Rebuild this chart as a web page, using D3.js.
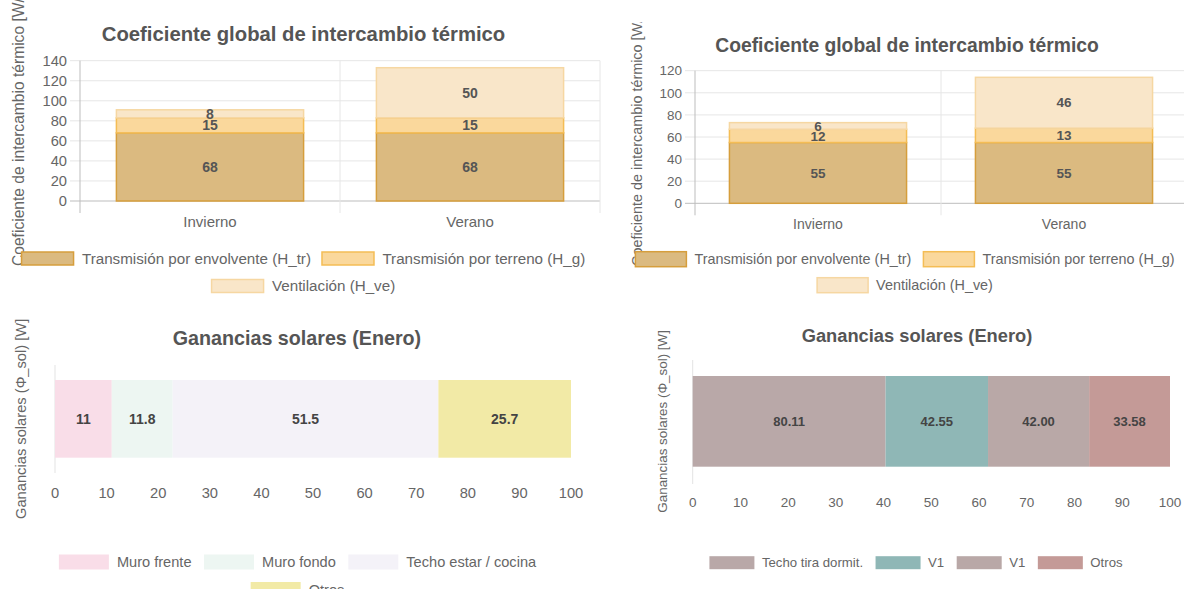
<!DOCTYPE html>
<html>
<head>
<meta charset="utf-8">
<script src="https://cdn.jsdelivr.net/npm/d3@7"></script>
<style>
  body { margin: 0; background: #fff; }
  svg text { font-family: "Liberation Sans", Arial, Helvetica, sans-serif; }
</style>
</head>
<body>
<script>
// data
const seasons = ["Invierno", "Verano"];
const heatSeries = ["Transmisión por envolvente (H_tr)", "Transmisión por terreno (H_g)", "Ventilación (H_ve)"];
const hTrLeft = [68, 68];
const hGLeft = [15, 15];
const hVeLeft = [8, 50];
const hTrRight = [55, 55];
const hGRight = [12, 13];
const hVeRight = [6, 46];

const solarNamesLeft = ["Muro frente", "Muro fondo", "Techo estar / cocina", "Otros"];
const solarValuesLeft = [11, 11.8, 51.5, 25.7];
const solarNamesRight = ["Techo tira dormit.", "V1", "V1", "Otros"];
const solarValuesRight = [80.11, 42.55, 42.00, 33.58];

const heatFill = ["#dbba80", "#fad89c", "#f9e6c9"];
const heatStroke = ["#d69e3c", "#f4bd55", "#f6d7a2"];
const solarColorsLeft = ["#f9dde8", "#edf6f2", "#f4f2f8", "#f2eaa6"];
const solarColorsRight = ["#b9a8a8", "#8fb7b6", "#b9a8a7", "#c49a97"];

const W = 1184, H = 589;
const svg = d3.select("body").append("svg")
  .attr("width", W).attr("height", H);

const defs = svg.append("defs");

// legend helper, rows are centered on cx
function legend(g, items, o) {
  o.rows.forEach((row, r) => {
    const cy = o.y + r * o.rowH;
    const rowG = g.append("g");
    let x = 0;
    row.forEach(i => {
      const it = items[i];
      rowG.append("rect")
        .attr("x", x).attr("y", cy - o.boxH / 2)
        .attr("width", o.boxW).attr("height", o.boxH)
        .attr("fill", it.fill)
        .attr("stroke", it.stroke || "none")
        .attr("stroke-width", it.stroke ? 1.5 : 0);
      const t = rowG.append("text")
        .attr("x", x + o.boxW + o.gap).attr("y", cy)
        .attr("dy", "0.35em")
        .attr("font-size", o.font)
        .attr("fill", "#666")
        .text(it.label);
      x += o.boxW + o.gap + t.node().getComputedTextLength() + o.itemGap;
    });
    const total = x - o.itemGap;
    rowG.attr("transform", `translate(${o.cx - total / 2},0)`);
  });
}

function yTitle(g, text, x, y, size, anchor, clipId) {
  const holder = g.append("g");
  if (clipId) holder.attr("clip-path", `url(#${clipId})`);
  holder.append("text")
    .attr("transform", `translate(${x},${y}) rotate(-90)`)
    .attr("text-anchor", anchor)
    .attr("font-size", size)
    .attr("fill", "#666")
    .text(text);
}

// stacked column chart (Coeficiente global)
function heatChart(c) {
  const g = svg.append("g");
  const rows = seasons.map((s, i) => ({ season: s, 0: c.tr[i], 1: c.g[i], 2: c.ve[i] }));
  const stack = d3.stack().keys([0, 1, 2])(rows);

  const x = d3.scaleBand().domain(seasons).range([c.left, c.right]);
  const y = d3.scaleLinear().domain([0, c.max]).range([c.bottom, c.top]);
  const ticks = y.ticks(c.max / 20);

  // horizontal grid
  g.append("g").selectAll("line").data(ticks).join("line")
    .attr("x1", c.left - 10).attr("x2", Math.min(c.right, W))
    .attr("y1", d => y(d)).attr("y2", d => y(d))
    .attr("stroke", d => d === 0 ? "#bdbdbd" : "#e6e6e6")
    .attr("stroke-width", 1);
  // vertical grid at band edges
  const edges = [c.left].concat(seasons.map(s => x(s) + x.bandwidth()));
  g.append("g").selectAll("line").data(edges).join("line")
    .attr("x1", d => d).attr("x2", d => d)
    .attr("y1", c.top).attr("y2", c.bottom + 12)
    .attr("stroke", (d, i) => i === 0 ? "#bdbdbd" : "#e6e6e6");

  g.append("g").selectAll("text").data(ticks).join("text")
    .attr("x", c.left - 13).attr("y", d => y(d)).attr("dy", "0.35em")
    .attr("text-anchor", "end").attr("font-size", c.tickFont).attr("fill", "#666")
    .text(d => d);

  g.append("g").selectAll("text").data(seasons).join("text")
    .attr("x", d => x(d) + x.bandwidth() / 2).attr("y", c.bottom + 21).attr("dy", "0.35em")
    .attr("text-anchor", "middle").attr("font-size", c.catFont).attr("fill", "#666")
    .text(d => d);

  const bw = x.bandwidth() * 0.72;
  stack.forEach((layer, k) => {
    g.append("g").selectAll("rect").data(layer).join("rect")
      .attr("x", d => x(d.data.season) + (x.bandwidth() - bw) / 2)
      .attr("width", bw)
      .attr("y", d => y(d[1]))
      .attr("height", d => y(d[0]) - y(d[1]))
      .attr("fill", heatFill[k])
      .attr("stroke", heatStroke[k])
      .attr("stroke-width", 1.5);
  });
  stack.forEach(layer => {
    g.append("g").selectAll("text").data(layer).join("text")
      .attr("x", d => x(d.data.season) + x.bandwidth() / 2)
      .attr("y", d => y((d[0] + d[1]) / 2)).attr("dy", "0.35em")
      .attr("text-anchor", "middle").attr("font-size", c.labelFont).attr("font-weight", "bold")
      .attr("fill", "#555")
      .text(d => d[1] - d[0]);
  });

  g.append("text")
    .attr("x", c.cx).attr("y", c.titleY).attr("dy", "0.35em")
    .attr("text-anchor", "middle").attr("font-size", c.titleSize).attr("font-weight", "bold")
    .attr("fill", "#555")
    .text("Coeficiente global de intercambio térmico");

  yTitle(g, "Coeficiente de intercambio térmico [W/K]", c.yTitleX, c.yTitleY, c.yTitleFont, "start", c.clipId);

  legend(g, heatSeries.map((s, i) => ({ label: s, fill: heatFill[i], stroke: heatStroke[i] })), c.legend);
}

// horizontal 100% bar (Ganancias solares)
function solarChart(c) {
  const g = svg.append("g");
  const total = d3.sum(c.values);
  const x = d3.scaleLinear().domain([0, 100]).range([c.left, c.right]);
  let acc = 0;
  const segs = c.values.map((v, i) => {
    const s = { v, i, x0: acc / total * 100, x1: (acc + v) / total * 100 };
    acc += v;
    return s;
  });

  g.append("line")
    .attr("x1", c.left).attr("x2", c.left)
    .attr("y1", c.axisTop).attr("y2", c.axisBottom)
    .attr("stroke", "#e3e3e3");

  g.append("g").selectAll("rect").data(segs).join("rect")
    .attr("x", d => x(d.x0)).attr("width", d => x(d.x1) - x(d.x0))
    .attr("y", c.barTop).attr("height", c.barBottom - c.barTop)
    .attr("fill", d => c.colors[d.i]);

  g.append("g").selectAll("text").data(segs).join("text")
    .attr("x", d => (x(d.x0) + x(d.x1)) / 2)
    .attr("y", (c.barTop + c.barBottom) / 2).attr("dy", "0.35em")
    .attr("text-anchor", "middle").attr("font-size", c.labelFont).attr("font-weight", "bold")
    .attr("fill", "#444")
    .text(d => c.fmt(d.v));

  g.append("g").selectAll("text").data(x.ticks(10)).join("text")
    .attr("x", d => x(d)).attr("y", c.tickY).attr("dy", "0.35em")
    .attr("text-anchor", "middle").attr("font-size", c.tickFont).attr("fill", "#666")
    .text(d => d);

  g.append("text")
    .attr("x", c.cx).attr("y", c.titleY).attr("dy", "0.35em")
    .attr("text-anchor", "middle").attr("font-size", c.titleSize).attr("font-weight", "bold")
    .attr("fill", "#555")
    .text("Ganancias solares (Enero)");

  yTitle(g, "Ganancias solares (Φ_sol) [W]", c.yTitleX, (c.barTop + c.barBottom) / 2, c.yTitleFont, "middle");

  legend(g, c.names.map((s, i) => ({ label: s, fill: c.colors[i] })), c.legend);
}

defs.append("clipPath").attr("id", "clipTR")
  .append("rect").attr("x", 600).attr("y", 22).attr("width", 584).attr("height", 300);

heatChart({
  tr: hTrLeft, g: hGLeft, ve: hVeLeft, max: 140,
  left: 80, right: 600, top: 60.7, bottom: 201,
  tickFont: 14.7, catFont: 15, labelFont: 14, yTitleFont: 15.6,
  cx: 303.5, titleY: 34, titleSize: 20.3,
  yTitleX: 23.5, yTitleY: 266,
  legend: { cx: 303.4, y: 258.5, rowH: 27.5, rows: [[0, 1], [2]], boxW: 52, boxH: 13, gap: 8.4, itemGap: 11, font: 15.2 }
});

heatChart({
  tr: hTrRight, g: hGRight, ve: hVeRight, max: 120,
  left: 695, right: 1187, top: 70.7, bottom: 203.3,
  tickFont: 13.5, catFont: 14, labelFont: 13.5, yTitleFont: 14.4,
  cx: 907, titleY: 45, titleSize: 19.3,
  yTitleX: 642, yTitleY: 266, clipId: "clipTR",
  legend: { cx: 905, y: 259.2, rowH: 26, rows: [[0, 1], [2]], boxW: 51, boxH: 15, gap: 8, itemGap: 12, font: 14.4 }
});

solarChart({
  names: solarNamesLeft, values: solarValuesLeft, colors: solarColorsLeft, fmt: d => String(d),
  left: 55, right: 571, barTop: 380, barBottom: 457.7, axisTop: 365, axisBottom: 473,
  tickY: 493.3, tickFont: 14.7, labelFont: 14, yTitleFont: 14.7,
  cx: 297, titleY: 338, titleSize: 19.7, yTitleX: 26,
  legend: { cx: 297.5, y: 562, rowH: 27.5, rows: [[0, 1, 2], [3]], boxW: 50, boxH: 15, gap: 8, itemGap: 12.5, font: 14.6 }
});

solarChart({
  names: solarNamesRight, values: solarValuesRight, colors: solarColorsRight, fmt: d3.format(".2f"),
  left: 692.7, right: 1170, barTop: 376, barBottom: 466.7, axisTop: 360, axisBottom: 484,
  tickY: 502.7, tickFont: 13.5, labelFont: 13, yTitleFont: 13.4,
  cx: 917, titleY: 336, titleSize: 18.3, yTitleX: 667,
  legend: { cx: 916, y: 562.7, rowH: 26, rows: [[0, 1, 2, 3]], boxW: 45, boxH: 13, gap: 7.5, itemGap: 12.5, font: 13.2 }
});
</script>
</body>
</html>
